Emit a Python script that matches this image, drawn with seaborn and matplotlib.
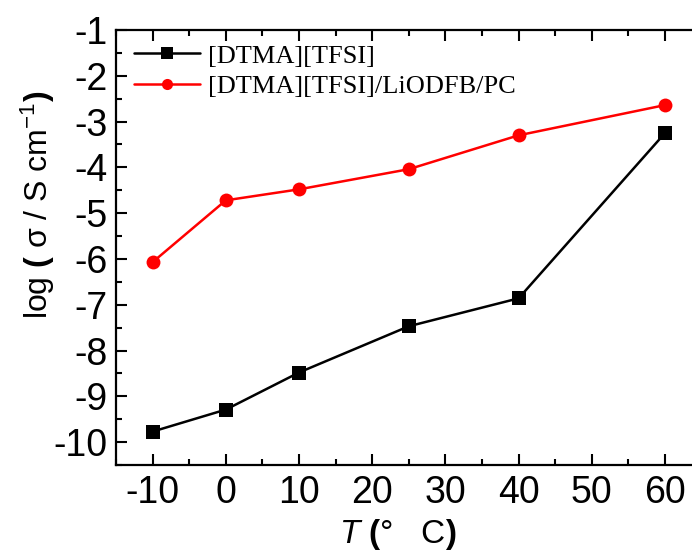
import matplotlib
matplotlib.use("Agg")
import matplotlib.pyplot as plt
import seaborn as sns
import pandas as pd
from matplotlib.ticker import MultipleLocator

temperature = [-10, 0, 10, 25, 40, 60]
log_sigma_il = [-9.77, -9.29, -8.48, -7.47, -6.86, -3.25]
log_sigma_el = [-6.07, -4.72, -4.48, -4.04, -3.30, -2.64]
series_names = ["[DTMA][TFSI]", "[DTMA][TFSI]/LiODFB/PC"]
x_ticks = [-10, 0, 10, 20, 30, 40, 50, 60]
y_ticks = [-10, -9, -8, -7, -6, -5, -4, -3, -2, -1]

sns.set_style("white")
plt.rcParams["font.family"] = ["Liberation Sans", "DejaVu Sans"]
plt.rcParams["mathtext.fontset"] = "custom"
plt.rcParams["mathtext.rm"] = "Liberation Sans"
plt.rcParams["mathtext.it"] = "Liberation Sans:italic"
plt.rcParams["mathtext.bf"] = "Liberation Sans:bold"
plt.rcParams["axes.unicode_minus"] = False
for k in ["text.color", "axes.labelcolor", "xtick.color", "ytick.color", "axes.edgecolor"]:
    plt.rcParams[k] = "black"

df = pd.DataFrame({
    "T": temperature * 2,
    "logsigma": log_sigma_il + log_sigma_el,
    "series": [series_names[0]] * len(temperature) + [series_names[1]] * len(temperature),
})

fig = plt.figure(figsize=(6.92, 5.56), dpi=100)
ax = fig.add_axes([116 / 692, 91 / 556, 585.6 / 692, 435 / 556])

palette = {series_names[0]: "black", series_names[1]: "red"}
markers = {series_names[0]: "s", series_names[1]: "o"}
sns.lineplot(data=df, x="T", y="logsigma", hue="series", style="series",
             palette=palette, markers=markers, dashes=False, markersize=10,
             linewidth=1.8, markeredgewidth=0, ax=ax)

ax.set_xlim(-15, 65)
ax.set_ylim(-10.5, -1)
ax.set_xticks(x_ticks)
ax.set_yticks(y_ticks)
ax.xaxis.set_minor_locator(MultipleLocator(5))
ax.yaxis.set_minor_locator(MultipleLocator(0.5))
ax.tick_params(axis="x", which="major", direction="in", length=8, width=1.5,
               labelsize=27, bottom=True, top=True, pad=7)
ax.tick_params(axis="x", which="minor", direction="in", length=4, width=1.5,
               bottom=True, top=True)
ax.tick_params(axis="y", which="major", direction="in", length=8, width=1.5,
               labelsize=27, left=True, pad=6)
ax.tick_params(axis="y", which="minor", direction="in", length=4, width=1.5, left=True)
for s in ax.spines.values():
    s.set_linewidth(1.6)
    s.set_color("black")

ax.set_xlabel(r"$\mathit{T}$ $\mathbf{(}$°   C$\mathbf{)}$", fontsize=24)
ax.set_ylabel(r"log $\mathbf{(}$ σ / S cm$^{\mathregular{-1}}$$\mathbf{)}$", fontsize=23)
ax.xaxis.set_label_coords((398 - 116) / 585.6, -0.12)
ax.yaxis.set_label_coords(-0.10, (465 - 205) / 435)

leg = ax.legend(loc="upper left", bbox_to_anchor=(0.0, 1.01), frameon=False,
                prop={"family": "Liberation Serif", "size": 19},
                handlelength=2.5, handletextpad=0.3, labelspacing=0.28,
                borderaxespad=0.3, markerscale=0.8)

fig.savefig("out.png", dpi=100)
